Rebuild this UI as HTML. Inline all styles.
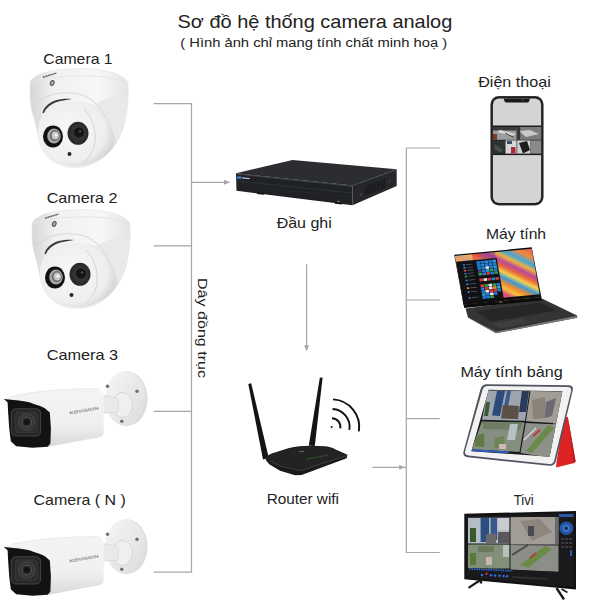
<!DOCTYPE html>
<html><head><meta charset="utf-8">
<style>
html,body{margin:0;padding:0;background:#fff;width:600px;height:600px;overflow:hidden}
svg{display:block}
text{font-family:"Liberation Sans",sans-serif;fill:#222}
</style></head><body>
<svg width="600" height="600" viewBox="0 0 600 600">
<defs>
  <linearGradient id="shellG" x1="0" y1="0" x2="1" y2="0">
    <stop offset="0" stop-color="#d6d6d6"/>
    <stop offset="0.25" stop-color="#f1f1f1"/>
    <stop offset="0.7" stop-color="#f7f7f7"/>
    <stop offset="1" stop-color="#e4e4e4"/>
  </linearGradient>
  <radialGradient id="ballG" cx="0.4" cy="0.45" r="0.6">
    <stop offset="0" stop-color="#f8f8f8"/>
    <stop offset="0.8" stop-color="#eeeeee"/>
    <stop offset="1" stop-color="#d8d8d8"/>
  </radialGradient>
  <radialGradient id="ledG" cx="0.55" cy="0.45" r="0.5">
    <stop offset="0" stop-color="#f0f0f0"/>
    <stop offset="0.3" stop-color="#b8b8b8"/>
    <stop offset="0.6" stop-color="#9a9a9a"/>
    <stop offset="0.85" stop-color="#6a6a6a"/>
    <stop offset="1" stop-color="#3a3a3a"/>
  </radialGradient>
  <linearGradient id="bodyG" x1="0" y1="0" x2="0" y2="1">
    <stop offset="0" stop-color="#f4f4f4"/>
    <stop offset="0.6" stop-color="#f0f0f0"/>
    <stop offset="1" stop-color="#d9d9d9"/>
  </linearGradient>
  <linearGradient id="discG" x1="0" y1="0" x2="1" y2="1">
    <stop offset="0" stop-color="#f6f6f6"/>
    <stop offset="1" stop-color="#dcdcdc"/>
  </linearGradient>

  <!-- Dome camera (absolute coords of camera 1) -->
  

  <!-- Bullet camera (absolute coords of camera 3) -->
  
</defs>

<!-- Title -->
<text x="177.5" y="27.6" font-size="18.6" textLength="274.8" lengthAdjust="spacingAndGlyphs">Sơ đồ hệ thống camera analog</text>
<text x="180.3" y="47.2" font-size="12.3" textLength="266.8" lengthAdjust="spacingAndGlyphs">( Hình ảnh chỉ mang tính chất minh hoạ )</text>

<!-- Labels -->
<text x="43.3" y="64.2" font-size="14.8" textLength="69.3" lengthAdjust="spacingAndGlyphs">Camera 1</text>
<text x="46.7" y="203.3" font-size="14.8" textLength="70.8" lengthAdjust="spacingAndGlyphs">Camera 2</text>
<text x="46.7" y="359.7" font-size="14.8" textLength="71.4" lengthAdjust="spacingAndGlyphs">Camera 3</text>
<text x="33.6" y="505.4" font-size="14.8" textLength="92.2" lengthAdjust="spacingAndGlyphs">Camera ( N )</text>
<text x="276.7" y="228" font-size="14.8" textLength="55.1" lengthAdjust="spacingAndGlyphs">Đầu ghi</text>
<text x="266.7" y="504.3" font-size="14.8" textLength="72.3" lengthAdjust="spacingAndGlyphs">Router wifi</text>
<text x="478.2" y="87.2" font-size="14.8" textLength="72.6" lengthAdjust="spacingAndGlyphs">Điện thoại</text>
<text x="485.9" y="239.3" font-size="14.8" textLength="60.2" lengthAdjust="spacingAndGlyphs">Máy tính</text>
<text x="460.4" y="376.6" font-size="14.8" textLength="102.4" lengthAdjust="spacingAndGlyphs">Máy tính bảng</text>
<text x="513.8" y="504.8" font-size="14.8" textLength="20" lengthAdjust="spacingAndGlyphs">Tivi</text>
<text transform="translate(198,278) rotate(90)" x="0" y="0" font-size="12" textLength="100" lengthAdjust="spacingAndGlyphs">Dây đồng trục</text>

<!-- Connector lines -->
<g stroke="#a6a6a6" stroke-width="1.2" fill="none">
  <path d="M153.7,103.7 H191.5 V572.2 H153.7"/>
  <path d="M153.7,245.8 H191.5"/>
  <path d="M153.7,411.3 H191.5"/>
  <path d="M191.5,182.3 H225"/>
  <path d="M306.6,264.3 V346"/>
  <path d="M439.7,148 H406.3 V552.5 H439.7"/>
  <path d="M406.3,300 H439.7"/>
  <path d="M406.3,418.7 H439.7"/>
  <path d="M372.5,467.3 H406"/>
</g>
<g fill="#a6a6a6">
  <path d="M224,179.8 L230.3,182.3 L224,184.8 Z"/>
  <path d="M304.1,345.3 L306.6,351.5 L309.1,345.3 Z"/>
  <path d="M399.2,464.8 L404.6,467.3 L399.2,469.8 Z"/>
</g>

<!-- Cameras -->
<g>
    <path d="M30.7,81 C29.5,90 29.5,108 34.6,119.4 C36,126 37,130 37.5,132.8 C39,142 41,148 44.2,152 C48,158 52,161.5 57.6,163.5 C62,166 68,167.5 75,167.5 C82,167.5 90,165.5 96,162.5 C104,158 110,152 115,145 C119,139 122,132 124.2,125 C126,118 127.5,108 128,98 C128.3,92 128.2,86 127.5,81.5 C122,75.5 115,72.5 107.4,71.5 C99,69.5 90,68.6 82.5,68.6 C72,68.6 62,69.3 53.7,70.5 C45,72 39,74 36.5,76.3 C33,78 31.5,79.5 30.7,81 Z" fill="url(#shellG)" stroke="#e2e2e2" stroke-width="0.6"/>
    <!-- top rim subtle line -->
    <path d="M31,82 C45,77 70,75.5 90,76 C105,76.5 118,79 127.5,82" fill="none" stroke="#e6e6e6" stroke-width="1"/>
    <!-- shell opening edge -->
    <path d="M96,104 C103,112 110,124 113,134 C115,139 115.5,142 115.5,145 L124.2,125 C126,118 127.5,108 128,98 C120,96 108,97 96,104 Z" fill="#e9e9e9"/>
    <path d="M34.5,105 C42,97 53,93.3 64,92.8 C76,92.5 88,95 96,104 C103,112 110,124 113,134 C115,139 115.5,142 115.5,144" fill="none" stroke="#d8d8d8" stroke-width="1.1"/>
    <!-- ball -->
    <path d="M38,132 C38,116 48,103.5 64,102 C76,101 88,102.5 95.5,105.5 C102.5,113 109.5,124 112.5,134 C114.5,140 115,143 113.5,147 C107,156 96,164 80,166.5 C62,167.5 48,160 42,150 C39,144 38,138 38,132 Z" fill="url(#ballG)"/>
    <!-- dark crescent -->
    <path d="M42.5,113 C44,107 48.5,103 55,100.5 C60,99 66,98.6 72,99 C66,99.8 60,101 56,102.3 C50,104.6 46,108.2 43.9,113 Z" fill="#383838"/>
    <!-- face edge -->
    <path d="M84,109 C91,116 95,126 95.3,137 C95.5,147 92,155 84,162" fill="none" stroke="#d4d4d4" stroke-width="1"/>
    <!-- LED -->
    <ellipse cx="53" cy="136.5" rx="10" ry="11" fill="#111"/>
    <ellipse cx="54" cy="136" rx="6.8" ry="7.4" fill="#a8a8a8"/>
    <ellipse cx="54.8" cy="135.6" rx="5" ry="5.5" fill="#6a6a6a"/>
    <ellipse cx="55.2" cy="135.4" rx="3.6" ry="4" fill="#c8c8c8"/>
    <circle cx="56" cy="135" r="1.6" fill="#f6f6f6"/>
    <!-- lens -->
    <ellipse cx="78" cy="133.3" rx="10.5" ry="11.5" fill="#2a2a2a"/>
    <ellipse cx="78.5" cy="133" rx="8" ry="8.8" fill="#333"/>
    <circle cx="79" cy="132.5" r="5" fill="#151515"/>
    <circle cx="80" cy="131.5" r="1.2" fill="#6a4040"/>
    <!-- sensor -->
    <circle cx="69.5" cy="154" r="2" fill="#1d2a2a"/>
    <!-- logo + screw -->
    <path d="M43,77.3 L56.5,73" stroke="#4a4a4a" stroke-width="1.3" stroke-dasharray="1.2,0.4"/>
    <ellipse cx="52.2" cy="83" rx="1.8" ry="2.5" transform="rotate(25 52.2 83)" fill="#a8a8a8" stroke="#4a4a4a" stroke-width="0.9"/>
  </g>
<g transform="translate(2,141)">
    <path d="M30.7,81 C29.5,90 29.5,108 34.6,119.4 C36,126 37,130 37.5,132.8 C39,142 41,148 44.2,152 C48,158 52,161.5 57.6,163.5 C62,166 68,167.5 75,167.5 C82,167.5 90,165.5 96,162.5 C104,158 110,152 115,145 C119,139 122,132 124.2,125 C126,118 127.5,108 128,98 C128.3,92 128.2,86 127.5,81.5 C122,75.5 115,72.5 107.4,71.5 C99,69.5 90,68.6 82.5,68.6 C72,68.6 62,69.3 53.7,70.5 C45,72 39,74 36.5,76.3 C33,78 31.5,79.5 30.7,81 Z" fill="url(#shellG)" stroke="#e2e2e2" stroke-width="0.6"/>
    <!-- top rim subtle line -->
    <path d="M31,82 C45,77 70,75.5 90,76 C105,76.5 118,79 127.5,82" fill="none" stroke="#e6e6e6" stroke-width="1"/>
    <!-- shell opening edge -->
    <path d="M96,104 C103,112 110,124 113,134 C115,139 115.5,142 115.5,145 L124.2,125 C126,118 127.5,108 128,98 C120,96 108,97 96,104 Z" fill="#e9e9e9"/>
    <path d="M34.5,105 C42,97 53,93.3 64,92.8 C76,92.5 88,95 96,104 C103,112 110,124 113,134 C115,139 115.5,142 115.5,144" fill="none" stroke="#d8d8d8" stroke-width="1.1"/>
    <!-- ball -->
    <path d="M38,132 C38,116 48,103.5 64,102 C76,101 88,102.5 95.5,105.5 C102.5,113 109.5,124 112.5,134 C114.5,140 115,143 113.5,147 C107,156 96,164 80,166.5 C62,167.5 48,160 42,150 C39,144 38,138 38,132 Z" fill="url(#ballG)"/>
    <!-- dark crescent -->
    <path d="M42.5,113 C44,107 48.5,103 55,100.5 C60,99 66,98.6 72,99 C66,99.8 60,101 56,102.3 C50,104.6 46,108.2 43.9,113 Z" fill="#383838"/>
    <!-- face edge -->
    <path d="M84,109 C91,116 95,126 95.3,137 C95.5,147 92,155 84,162" fill="none" stroke="#d4d4d4" stroke-width="1"/>
    <!-- LED -->
    <ellipse cx="53" cy="136.5" rx="10" ry="11" fill="#111"/>
    <ellipse cx="54" cy="136" rx="6.8" ry="7.4" fill="#a8a8a8"/>
    <ellipse cx="54.8" cy="135.6" rx="5" ry="5.5" fill="#6a6a6a"/>
    <ellipse cx="55.2" cy="135.4" rx="3.6" ry="4" fill="#c8c8c8"/>
    <circle cx="56" cy="135" r="1.6" fill="#f6f6f6"/>
    <!-- lens -->
    <ellipse cx="78" cy="133.3" rx="10.5" ry="11.5" fill="#2a2a2a"/>
    <ellipse cx="78.5" cy="133" rx="8" ry="8.8" fill="#333"/>
    <circle cx="79" cy="132.5" r="5" fill="#151515"/>
    <circle cx="80" cy="131.5" r="1.2" fill="#6a4040"/>
    <!-- sensor -->
    <circle cx="69.5" cy="154" r="2" fill="#1d2a2a"/>
    <!-- logo + screw -->
    <path d="M43,77.3 L56.5,73" stroke="#4a4a4a" stroke-width="1.3" stroke-dasharray="1.2,0.4"/>
    <ellipse cx="52.2" cy="83" rx="1.8" ry="2.5" transform="rotate(25 52.2 83)" fill="#a8a8a8" stroke="#4a4a4a" stroke-width="0.9"/>
  </g>
<g>
    <!-- bracket disc -->
    <ellipse cx="126.5" cy="398.7" rx="21" ry="27.5" fill="#dcdcdc"/>
    <ellipse cx="125.5" cy="398.2" rx="20" ry="27" fill="url(#discG)"/>
    <ellipse cx="122.5" cy="405" rx="10" ry="12.5" fill="#efefef" stroke="#d0d0d0" stroke-width="0.8"/>
    <circle cx="107.5" cy="386.3" r="1.7" fill="#6e6e6e"/>
    <circle cx="137" cy="391.3" r="1.7" fill="#6e6e6e"/>
    <circle cx="121.8" cy="421.3" r="1.7" fill="#6e6e6e"/>
    <!-- neck -->
    <path d="M100,395 L117,398 C119,402 119,409 117,412.5 L100,413 Z" fill="#e9e9e9" stroke="#d0d0d0" stroke-width="0.6"/>
    <!-- body -->
    <path d="M3.8,399 C12,395 25,392.5 50,390 C70,388.3 88,388.3 98.7,388.7 C102,389.5 103.5,392 103.7,396 L103.7,432 C103.5,435.5 101,437 97,437.8 C82,440.5 65,443.5 50.5,446.5 L47.7,446.7 Z" fill="url(#bodyG)"/>
    <!-- body top highlight edge -->
    <path d="M11,396.5 C30,392 60,389 98.7,388.7" fill="none" stroke="#e8e8e8" stroke-width="0.8"/>
    <!-- black front -->
    <path d="M3.8,399.1 L16.2,400.2 C24,401 30,402 32.5,403.4 C39,405.5 43,406.5 45.5,408.8 L49.8,412.6 L50.9,428.3 L50.4,443.5 L47.7,446.7 L32.5,447.8 L16.2,446.2 L10.8,441.3 L9.2,428.3 L8.1,412.1 L7.6,402.3 Z" fill="#121212"/>
    <!-- lens window -->
    <rect x="11.3" y="408.8" width="29.3" height="27.2" rx="4.5" fill="#262626" stroke="#4a4a4a" stroke-width="0.9"/>
    <rect x="15.3" y="412" width="22" height="20.7" rx="3" fill="#2e2e2e" stroke="#3e3e3e" stroke-width="0.7"/>
    <circle cx="26.7" cy="422" r="8.3" fill="#353535" stroke="#4c4c4c" stroke-width="0.8"/>
    <circle cx="26.7" cy="422" r="4.8" fill="#222" stroke="#5c5c5c" stroke-width="0.9"/>
    <circle cx="26.7" cy="422" r="2.4" fill="#111"/>
    <!-- brand -->
    <text x="0" y="0" transform="translate(69.8,414.6) rotate(-10)" font-size="4.2" style="fill:#8a8a8a;font-weight:bold" textLength="29.5" lengthAdjust="spacingAndGlyphs">KBVISION</text>
  </g>
<g transform="translate(0,148)">
    <!-- bracket disc -->
    <ellipse cx="126.5" cy="398.7" rx="21" ry="27.5" fill="#dcdcdc"/>
    <ellipse cx="125.5" cy="398.2" rx="20" ry="27" fill="url(#discG)"/>
    <ellipse cx="122.5" cy="405" rx="10" ry="12.5" fill="#efefef" stroke="#d0d0d0" stroke-width="0.8"/>
    <circle cx="107.5" cy="386.3" r="1.7" fill="#6e6e6e"/>
    <circle cx="137" cy="391.3" r="1.7" fill="#6e6e6e"/>
    <circle cx="121.8" cy="421.3" r="1.7" fill="#6e6e6e"/>
    <!-- neck -->
    <path d="M100,395 L117,398 C119,402 119,409 117,412.5 L100,413 Z" fill="#e9e9e9" stroke="#d0d0d0" stroke-width="0.6"/>
    <!-- body -->
    <path d="M3.8,399 C12,395 25,392.5 50,390 C70,388.3 88,388.3 98.7,388.7 C102,389.5 103.5,392 103.7,396 L103.7,432 C103.5,435.5 101,437 97,437.8 C82,440.5 65,443.5 50.5,446.5 L47.7,446.7 Z" fill="url(#bodyG)"/>
    <!-- body top highlight edge -->
    <path d="M11,396.5 C30,392 60,389 98.7,388.7" fill="none" stroke="#e8e8e8" stroke-width="0.8"/>
    <!-- black front -->
    <path d="M3.8,399.1 L16.2,400.2 C24,401 30,402 32.5,403.4 C39,405.5 43,406.5 45.5,408.8 L49.8,412.6 L50.9,428.3 L50.4,443.5 L47.7,446.7 L32.5,447.8 L16.2,446.2 L10.8,441.3 L9.2,428.3 L8.1,412.1 L7.6,402.3 Z" fill="#121212"/>
    <!-- lens window -->
    <rect x="11.3" y="408.8" width="29.3" height="27.2" rx="4.5" fill="#262626" stroke="#4a4a4a" stroke-width="0.9"/>
    <rect x="15.3" y="412" width="22" height="20.7" rx="3" fill="#2e2e2e" stroke="#3e3e3e" stroke-width="0.7"/>
    <circle cx="26.7" cy="422" r="8.3" fill="#353535" stroke="#4c4c4c" stroke-width="0.8"/>
    <circle cx="26.7" cy="422" r="4.8" fill="#222" stroke="#5c5c5c" stroke-width="0.9"/>
    <circle cx="26.7" cy="422" r="2.4" fill="#111"/>
    <!-- brand -->
    <text x="0" y="0" transform="translate(69.8,414.6) rotate(-10)" font-size="4.2" style="fill:#8a8a8a;font-weight:bold" textLength="29.5" lengthAdjust="spacingAndGlyphs">KBVISION</text>
  </g>

<!-- DVR -->
<g>
  <path d="M236,173.3 L292.5,160 L396.7,169.3 L352.5,185.5 Z" fill="#2b2d31"/>
  <path d="M236,173.3 L352.5,185.5 L352.5,205.3 L236.5,190.8 Z" fill="#1f2125"/>
  <path d="M352.5,185.5 L396.7,169.3 L396.7,186 L352.5,205.3 Z" fill="#25272b"/>
  <path d="M236.3,174 L352.5,186.2" stroke="#45484e" stroke-width="0.9"/>
  <path d="M352.5,186 L396.7,170" stroke="#3a3d42" stroke-width="0.7"/>
  <path d="M237,181 L352,193" stroke="#34373c" stroke-width="0.8"/>
  <path d="M237,185 L352,197.5" stroke="#2a2c30" stroke-width="0.6"/>
  <rect x="237.2" y="176.3" width="4" height="2.5" fill="#3a80d0"/>
  <path d="M241.8,177.9 L249.7,178.6" stroke="#b8bcc4" stroke-width="1.4"/>
  <path d="M365.5,186 L385,178.5 L385,187.5 L365.5,195 Z" fill="#1a1b1e"/>
  <g stroke="#2e3034" stroke-width="0.6">
    <path d="M368,185 V194"/><path d="M371,183.8 V192.8"/><path d="M374,182.7 V191.7"/><path d="M377,181.5 V190.5"/><path d="M380,180.4 V189.4"/><path d="M383,179.2 V188.2"/>
  </g>
  <rect x="360" y="193" width="2" height="3" fill="#3a3a3a"/>
  <rect x="388.5" y="180" width="2" height="3" fill="#3a3a3a"/>
  <path d="M257,193.2 L264,194" stroke="#111" stroke-width="1.4"/>
  <path d="M335,203 L342,203.8" stroke="#111" stroke-width="1.4"/>
  <path d="M337,201.3 L340,201.6" stroke="#999" stroke-width="0.8"/>
</g>

<!-- Router -->
<g>
  <path d="M248.3,383.9 L251.2,383.3 L268.8,458 L263,459.5 Z" fill="#141414"/>
  <path d="M319.8,377.8 L322.6,377.5 L314.8,446 L308.8,445.5 Z" fill="#141414"/>
  <path d="M265.8,457.5 C268,455 271,453.5 275,452.5 L288.3,448.3 C296,446.5 303,445.8 310,445.8 L325,446.3 C330,447 333,448 335,449.2 L347.5,454.7 L346.7,458.3 L321.7,467.5 L301.7,475 L295,475.3 L280,470.8 L269.2,464.2 L265.8,460 Z" fill="#1b1b1b"/>
  <path d="M266,458.5 C268,456 272,454 276,453 L289,449 C297,447 304,446.5 310,446.5 L325,447 C330,447.5 333,448.5 335,450 L346,455 L322,463 L300,469 L281,465 L270,460.5 Z" fill="#232323"/>
  <path d="M270,461 L282,466.5 L301,470.5 L322,463.5 L347,455.5" stroke="#4a4a4a" stroke-width="0.8" fill="none"/>
  <path d="M306.7,459.2 L328.3,455" stroke="#2a5a30" stroke-width="1.5" stroke-dasharray="1.4,0.8"/>
  <path d="M299,451.8 L304,451.2" stroke="#777" stroke-width="0.8"/>
  <!-- wifi -->
  <g stroke="#111" stroke-width="1.9" fill="none" stroke-linecap="butt">
    <path d="M332.06,418.2 A8.8,8.8 0 0 1 340.3,428.4"/>
    <path d="M332.54,409 A18,18 0 0 1 349.38,429.8"/>
    <path d="M333.04,399.4 A27.6,27.6 0 0 1 358.86,431.3"/>
  </g>
  <circle cx="331.6" cy="427" r="1" fill="#111"/>
</g>

<!-- Phone -->
<g>
  <rect x="490.4" y="96" width="53.2" height="109.6" rx="8.5" fill="#3a3a3a"/>
  <rect x="491.2" y="96.8" width="51.6" height="108" rx="7.8" fill="#1e1e1e"/>
  <rect x="492.9" y="98.5" width="48.2" height="104.6" rx="6.2" fill="#d4d4d4"/>
  <path d="M503.6,98.4 L530,98.4 L529,101.5 C528.5,102.3 528,102.5 527,102.5 L506.6,102.5 C505.6,102.5 505,102.3 504.6,101.5 Z" fill="#1a1a1a"/>
  <circle cx="522.5" cy="100" r="0.8" fill="#2a6a7a"/>
  <rect x="492.9" y="125.5" width="48.2" height="29.6" fill="#1c1c1c"/>
  <!-- TL -->
  <rect x="493" y="127" width="23.6" height="12.8" fill="#9c9c9c"/>
  <rect x="493" y="127" width="23.6" height="3.5" fill="#3a3a3a"/>
  <path d="M497,132 L512,136 L516,134 L500,130 Z" fill="#d8d8d8"/>
  <path d="M505,133 L514,137.5" stroke="#3a3a3a" stroke-width="1"/>
  <rect x="493" y="134" width="4" height="5.8" fill="#7a3a2a"/>
  <!-- TR -->
  <rect x="517.2" y="127" width="23.9" height="12.8" fill="#7c7c7c"/>
  <path d="M519,131 L530,130 L539,134 L526,137 Z" fill="#c8c8c8"/>
  <rect x="517.2" y="127" width="3" height="12.8" fill="#333"/>
  <!-- BL -->
  <rect x="493" y="140.4" width="12.5" height="13.2" fill="#2a3232"/>
  <path d="M495,144 L503,150 L501,153 L494,149 Z" fill="#4a4a4a"/>
  <rect x="505.5" y="140.4" width="11.1" height="13.2" fill="#d6d6d6"/>
  <rect x="511" y="147" width="4.5" height="6.6" fill="#b02a36"/>
  <rect x="507" y="141" width="5" height="3" fill="#3a4a6a"/>
  <!-- BR -->
  <rect x="517.2" y="140.4" width="13" height="13.2" fill="#d0d0d0"/>
  <path d="M519,143 L527,141 L530,150 L523,153.6 Z" fill="#1e1e1e"/>
  <rect x="530.2" y="140.4" width="10.9" height="13.2" fill="#8a8a8a"/>
</g>

<!-- Laptop -->
<g>
  <!-- base -->
  <path d="M465.5,308.5 L542,298.5 L577,315.5 L577.3,317.8 L496,333.2 L468,317.5 Z" fill="#343434"/>
  <path d="M468,317.5 L496,333.2 L577.3,317.8 L577,315.8 L496,331.8 Z" fill="#7a7a7a"/>
  <path d="M476,311.5 L540,302.5 L557,310.5 L491,321.5 Z" fill="#262626"/>
  <path d="M492,323.5 L522,318.5 L532,322.5 L500,328.5 Z" fill="#3e3e3e"/>
  <!-- lid -->
  <path d="M454.2,254.8 L531.7,247.3 L542,300.5 L464.2,308 Z" fill="#0c0c0c"/>
  <linearGradient id="wall" x1="0" y1="1" x2="1" y2="0">
    <stop offset="0" stop-color="#e85a2a"/>
    <stop offset="0.12" stop-color="#f39a30"/>
    <stop offset="0.2" stop-color="#f7c846"/>
    <stop offset="0.28" stop-color="#ef7a3a"/>
    <stop offset="0.34" stop-color="#d84a7a"/>
    <stop offset="0.4" stop-color="#f5c040"/>
    <stop offset="0.46" stop-color="#f08a30"/>
    <stop offset="0.52" stop-color="#3a9ad8"/>
    <stop offset="0.58" stop-color="#f4d050"/>
    <stop offset="0.64" stop-color="#e86a3a"/>
    <stop offset="0.7" stop-color="#b84a9a"/>
    <stop offset="0.76" stop-color="#f2b040"/>
    <stop offset="0.82" stop-color="#40a8d8"/>
    <stop offset="0.9" stop-color="#f08a40"/>
    <stop offset="1" stop-color="#e85a5a"/>
  </linearGradient>
  <g transform="matrix(0.767,-0.073,0.085,0.485,455,256)">
    <rect x="0" y="0" width="100" height="100" fill="url(#wall)"/>
    <rect x="0" y="0" width="22" height="12" fill="#f2a468" opacity="0.85"/><rect x="22" y="0" width="10" height="12" fill="#e0304a" opacity="0.6"/><rect x="32" y="0" width="20" height="12" fill="#7a3a9a" opacity="0.45"/>
    <rect x="0" y="12" width="53" height="88" fill="#121216"/>
    <rect x="26" y="15" width="4.6" height="5.4" fill="#1f7fd8"/><rect x="31.2" y="15" width="4.6" height="5.4" fill="#1f7fd8"/><rect x="36.4" y="15" width="4.6" height="5.4" fill="#2a8ae0"/><rect x="41.6" y="15" width="4.6" height="5.4" fill="#1f7fd8"/><rect x="46.8" y="15" width="4.6" height="5.4" fill="#3a9ae8"/><rect x="26" y="21" width="4.6" height="5.4" fill="#1f7fd8"/><rect x="31.2" y="21" width="4.6" height="5.4" fill="#2a8ae0"/><rect x="36.4" y="21" width="4.6" height="5.4" fill="#1f7fd8"/><rect x="41.6" y="21" width="4.6" height="5.4" fill="#1f7fd8"/><rect x="46.8" y="21" width="4.6" height="5.4" fill="#1f7fd8"/><rect x="26" y="27" width="4.6" height="5.4" fill="#1f7fd8"/><rect x="31.2" y="27" width="4.6" height="5.4" fill="#1f7fd8"/><rect x="36.4" y="27" width="4.6" height="5.4" fill="#e8e8e8"/><rect x="41.6" y="27" width="4.6" height="5.4" fill="#1f7fd8"/><rect x="46.8" y="27" width="4.6" height="5.4" fill="#2aa0d0"/><rect x="26" y="33" width="4.6" height="5.4" fill="#5a3a8a"/><rect x="31.2" y="33" width="4.6" height="5.4" fill="#1f7fd8"/><rect x="36.4" y="33" width="4.6" height="5.4" fill="#2aa0d0"/><rect x="41.6" y="33" width="4.6" height="5.4" fill="#3a9a4a"/><rect x="46.8" y="33" width="4.6" height="5.4" fill="#1f7fd8"/><rect x="26" y="39" width="4.6" height="5.4" fill="#3a9a4a"/><rect x="31.2" y="39" width="4.6" height="5.4" fill="#1f7fd8"/><rect x="36.4" y="39" width="4.6" height="5.4" fill="#d83a3a"/><rect x="41.6" y="39" width="4.6" height="5.4" fill="#1f7fd8"/><rect x="46.8" y="39" width="4.6" height="5.4" fill="#3a9a4a"/><rect x="26" y="51" width="4.6" height="5.4" fill="#d83a3a"/><rect x="31.2" y="51" width="4.6" height="5.4" fill="#e8e8e8"/><rect x="36.4" y="51" width="4.6" height="5.4" fill="#d83a3a"/><rect x="41.6" y="51" width="4.6" height="5.4" fill="#1f7fd8"/><rect x="46.8" y="51" width="4.6" height="5.4" fill="#d83a3a"/><rect x="26" y="63" width="4.6" height="5.4" fill="#d83a3a"/><rect x="31.2" y="63" width="4.6" height="5.4" fill="#3a9a4a"/><rect x="36.4" y="63" width="4.6" height="5.4" fill="#e8e8e8"/><rect x="41.6" y="63" width="4.6" height="5.4" fill="#3a9a4a"/><rect x="46.8" y="63" width="4.6" height="5.4" fill="#1f7fd8"/><rect x="26" y="69" width="4.6" height="5.4" fill="#1f7fd8"/><rect x="31.2" y="69" width="4.6" height="5.4" fill="#d83a3a"/><rect x="36.4" y="69" width="4.6" height="5.4" fill="#e8e8e8"/><rect x="41.6" y="69" width="4.6" height="5.4" fill="#e88a30"/><rect x="46.8" y="69" width="4.6" height="5.4" fill="#2aa0d0"/><rect x="26" y="75" width="4.6" height="5.4" fill="#1f7fd8"/><rect x="31.2" y="75" width="4.6" height="5.4" fill="#e8e8e8"/><rect x="36.4" y="75" width="4.6" height="5.4" fill="#d83a3a"/><rect x="41.6" y="75" width="4.6" height="5.4" fill="#d83a3a"/><rect x="46.8" y="75" width="4.6" height="5.4" fill="#1f7fd8"/><rect x="26" y="81" width="4.6" height="5.4" fill="#2aa0d0"/><rect x="31.2" y="81" width="4.6" height="5.4" fill="#1f7fd8"/><rect x="36.4" y="81" width="4.6" height="5.4" fill="#e8e8e8"/><rect x="41.6" y="81" width="4.6" height="5.4" fill="#1f7fd8"/><rect x="26" y="87" width="4.6" height="5.4" fill="#1f7fd8"/><rect x="31.2" y="87" width="4.6" height="5.4" fill="#1f7fd8"/><rect x="36.4" y="87" width="4.6" height="5.4" fill="#3a9a4a"/>
    <rect x="8" y="18" width="3" height="3.5" fill="#2a7ad0"/><rect x="12.5" y="19" width="8" height="1.3" fill="#6a6a6a"/><rect x="8" y="24" width="3" height="3.5" fill="#2a7ad0"/><rect x="12.5" y="25" width="8" height="1.3" fill="#6a6a6a"/><rect x="8" y="30" width="3" height="3.5" fill="#d04a3a"/><rect x="12.5" y="31" width="8" height="1.3" fill="#6a6a6a"/><rect x="8" y="36" width="3" height="3.5" fill="#2a7ad0"/><rect x="12.5" y="37" width="8" height="1.3" fill="#6a6a6a"/><rect x="8" y="42" width="3" height="3.5" fill="#3a9a4a"/><rect x="12.5" y="43" width="8" height="1.3" fill="#6a6a6a"/><rect x="8" y="50" width="3" height="3.5" fill="#2a7ad0"/><rect x="12.5" y="51" width="8" height="1.3" fill="#6a6a6a"/><rect x="8" y="58" width="3" height="3.5" fill="#2a7ad0"/><rect x="12.5" y="59" width="8" height="1.3" fill="#6a6a6a"/><rect x="8" y="66" width="3" height="3.5" fill="#e08a30"/><rect x="12.5" y="67" width="8" height="1.3" fill="#6a6a6a"/><rect x="8" y="74" width="3" height="3.5" fill="#2a7ad0"/><rect x="12.5" y="75" width="8" height="1.3" fill="#6a6a6a"/><rect x="8" y="86" width="3" height="3.5" fill="#2a7ad0"/><rect x="12.5" y="87" width="8" height="1.3" fill="#6a6a6a"/>
    <rect x="0" y="94" width="100" height="6" fill="#101012"/>
  </g>
  <rect x="499" y="301.5" width="3.5" height="1" fill="#888"/>
</g>

<!-- Tablet -->
<g>
  <path d="M563.8,418 L567.8,416.8 L575.6,461.5 L574.5,463 L556,467.6 L556.5,462 Z" fill="#dc2424"/>
  <path d="M567.8,416.8 L575.6,461.5 L573.5,462 Z" fill="#b81c1c"/>
  <path d="M487.3,384.3 L568.5,385.2 Q574.0,385.3 572.7,390.6 L555.9,461.1 Q554.6,466.4 549.1,465.8 L467.7,457.2 Q462.2,456.6 463.6,451.3 L480.4,389.5 Q481.8,384.2 487.3,384.3 Z" fill="#4f5460"/>
  <path d="M488.1,386.0 L567.6,386.9 Q572.1,387.0 571.0,391.4 L554.3,460.2 Q553.2,464.6 548.7,464.1 L468.5,455.5 Q464.0,455.0 465.2,450.7 L482.4,390.2 Q483.6,385.9 488.1,386.0 Z" fill="#f2f2f2"/>
  <clipPath id="tabScr"><path d="M488.7,389.8 L562.4,391.2 L549.6,456.7 L471.4,451.3 Z"/></clipPath>
  <g clip-path="url(#tabScr)">
    <rect x="460" y="385" width="110" height="80" fill="#1a1a1a"/>
    <!-- TL office -->
    <path d="M487.5,390.5 L529.5,391 L525,420.8 L482,419.8 Z" fill="#9ea4ae"/>
    <path d="M497,391 L505,391 L500,416 L492,415.5 Z" fill="#2c4a7a"/>
    <path d="M507,391 L511,391 L507,412 L503,411.5 Z" fill="#3a5a8a"/>
    <path d="M522,391 L529,391 L526,412 L519,412 Z" fill="#2a3a5a"/>
    <path d="M503,405 L519,406 L518,419 L501,418.5 Z" fill="#5a5048"/>
    <path d="M486,402 L490,402 L488,416 L484,416 Z" fill="#3e5a32"/>
    <!-- TR office -->
    <path d="M530.5,391 L563.3,391.5 L557.8,423.2 L526,421.2 Z" fill="#a29e96"/>
    <path d="M532,400 L545,397 L546,418 L533,419 Z" fill="#8a8278"/>
    <path d="M546,402 L556,398 L552,416 L545,418 Z" fill="#6a6a70"/>
    <!-- BL aerial -->
    <path d="M481.8,421.5 L524.6,422.5 L519.5,452 L472,449.2 Z" fill="#858f80"/>
    <path d="M483,422 L522,423 L520,430 L483,429 Z" fill="#6f7e62"/>
    <path d="M476,436 L484,433 L484.5,447 L475,446.5 Z" fill="#5f7a45"/>
    <path d="M495,438 L504,436 L505,448 L494,448 Z" fill="#6e8656"/>
    <path d="M499,444 L506,444 L506,449 L499,449 Z" fill="#d0b8b8"/>
    <path d="M510,424 L518,424 L515,440 L507,440 Z" fill="#b8c0c4"/>
    <!-- BR aerial -->
    <path d="M525.8,423 L558,424.6 L551,458 L520.5,453 Z" fill="#8e918a"/>
    <path d="M526,451 L548,425 L554,428 L532,453 Z" fill="#6b8a4a"/>
    <path d="M533,436 L540,430" stroke="#b83a3a" stroke-width="2"/>
    <path d="M524,440 L536,428" stroke="#d8d8d8" stroke-width="1.5"/>
    <!-- toolbar -->
    <path d="M471.5,449.3 L509,451.4 L508.6,453.2 L471,451.2 Z" fill="#2a5ec8"/>
  </g>
  <circle cx="555" cy="424" r="1.3" fill="none" stroke="#c8c8c8" stroke-width="0.6"/>
</g>

<!-- TV -->
<g>
  <path d="M480.4,580 L468.5,587.8" stroke="#1a1a1a" stroke-width="2.2"/>
  <path d="M481,581 L481,583.5" stroke="#1a1a1a" stroke-width="2.5"/>
  <path d="M556.5,588 L564,599.5" stroke="#1a1a1a" stroke-width="2.4"/>
  <path d="M561.5,589 L567.5,592.5" stroke="#1a1a1a" stroke-width="1.6"/>
  <path d="M464.3,513.8 L576,510.9 L576,589.5 L464.3,579.3 Z" fill="#121212"/>
  <path d="M466.5,516 L574,513.3 L574,587.2 L466.5,577.5 Z" fill="#1a1a1c"/>
  <clipPath id="tvScr"><path d="M467.8,517.7 L558.7,516.5 L558.7,571.8 L467.8,568 Z"/></clipPath>
  <g clip-path="url(#tvScr)">
    <rect x="465" y="514" width="96" height="60" fill="#1a1a1a"/>
    <!-- TL office -->
    <rect x="468" y="517.5" width="41.5" height="26" fill="#b4bcc4"/>
    <rect x="480.6" y="518" width="8.5" height="24" fill="#2e4e80"/>
    <rect x="490.6" y="518" width="6.6" height="22" fill="#3a5a8e"/>
    <rect x="497.5" y="518" width="12" height="12" fill="#c8ccd0"/>
    <rect x="498" y="532" width="11" height="11" fill="#5a5858"/>
    <rect x="486" y="534" width="10" height="9" fill="#6a6a6e"/>
    <rect x="470" y="528" width="6" height="14" fill="#3a5a2e"/>
    <rect x="509.5" y="517" width="1" height="55" fill="#222"/>
    <!-- TR office -->
    <rect x="510.5" y="517" width="48" height="27.5" fill="#a19d96"/>
    <path d="M520,521 L540,519 L552,532 L532,541 Z" fill="#8c867c"/>
    <rect x="528" y="526" width="6" height="10" fill="#4a4a50"/>
    <rect x="555" y="517" width="3.7" height="27" fill="#6a6a6a"/>
    <!-- BL aerial -->
    <rect x="468" y="544.5" width="41.5" height="24" fill="#82907a"/>
    <rect x="470" y="553" width="6" height="12" fill="#5a7a3a"/>
    <rect x="478" y="546" width="16" height="6" fill="#6a7a5a"/>
    <rect x="486" y="557" width="6" height="8" fill="#c8b8b0"/>
    <rect x="503" y="545" width="6" height="12" fill="#b8c0c0"/>
    <!-- BR aerial -->
    <path d="M510.5,545 L558.7,545.5 L558.7,572 L510.5,569.5 Z" fill="#8c8f88"/>
    <path d="M520,565 L545,546 L552,549 L528,568 Z" fill="#6a8a48"/>
    <path d="M530,558 L536,553" stroke="#b83a3a" stroke-width="2"/>
    <path d="M512,555 L528,545" stroke="#4a4a4a" stroke-width="2"/>
  </g>
  <!-- right panel -->
  <rect x="559" y="514" width="14.5" height="3" fill="#2a5aa8"/>
  <circle cx="566.3" cy="528.3" r="6.8" fill="#2456a8"/>
  <circle cx="566.3" cy="528.3" r="3.5" fill="#3c78d0"/>
  <circle cx="566.3" cy="528.3" r="1.8" fill="#1a2a50"/>
  <g fill="#3a3a3e">
    <rect x="561" y="538" width="3" height="2"/><rect x="565" y="538" width="3" height="2"/><rect x="569" y="538" width="3" height="2"/>
    <rect x="561" y="542" width="3" height="2"/><rect x="565" y="542" width="3" height="2"/><rect x="569" y="542" width="3" height="2"/>
    <rect x="561" y="546" width="3" height="2"/><rect x="565" y="546" width="3" height="2"/><rect x="569" y="546" width="3" height="2"/>
  </g>
  <rect x="570" y="550" width="2" height="6" fill="#2a5aa8"/>
  <!-- toolbar -->
  <path d="M469,569 L512.5,570.8" stroke="#2e6ad8" stroke-width="1.6" stroke-dasharray="1.6,0.8"/>
  <g fill="#2f6ad0">
    <circle cx="482" cy="575" r="1.3"/><circle cx="491" cy="575.3" r="1.3"/><circle cx="495" cy="575.6" r="1.3"/><circle cx="499.5" cy="575.8" r="1.3"/><circle cx="503.5" cy="576" r="1.3"/><circle cx="507" cy="576.3" r="1.3"/>
  </g>
  <circle cx="486.5" cy="573.8" r="1.3" fill="#c83030"/>
  <path d="M512,577 L548,579" stroke="#333" stroke-width="1.5"/>
</g>
</svg>
</body></html>
